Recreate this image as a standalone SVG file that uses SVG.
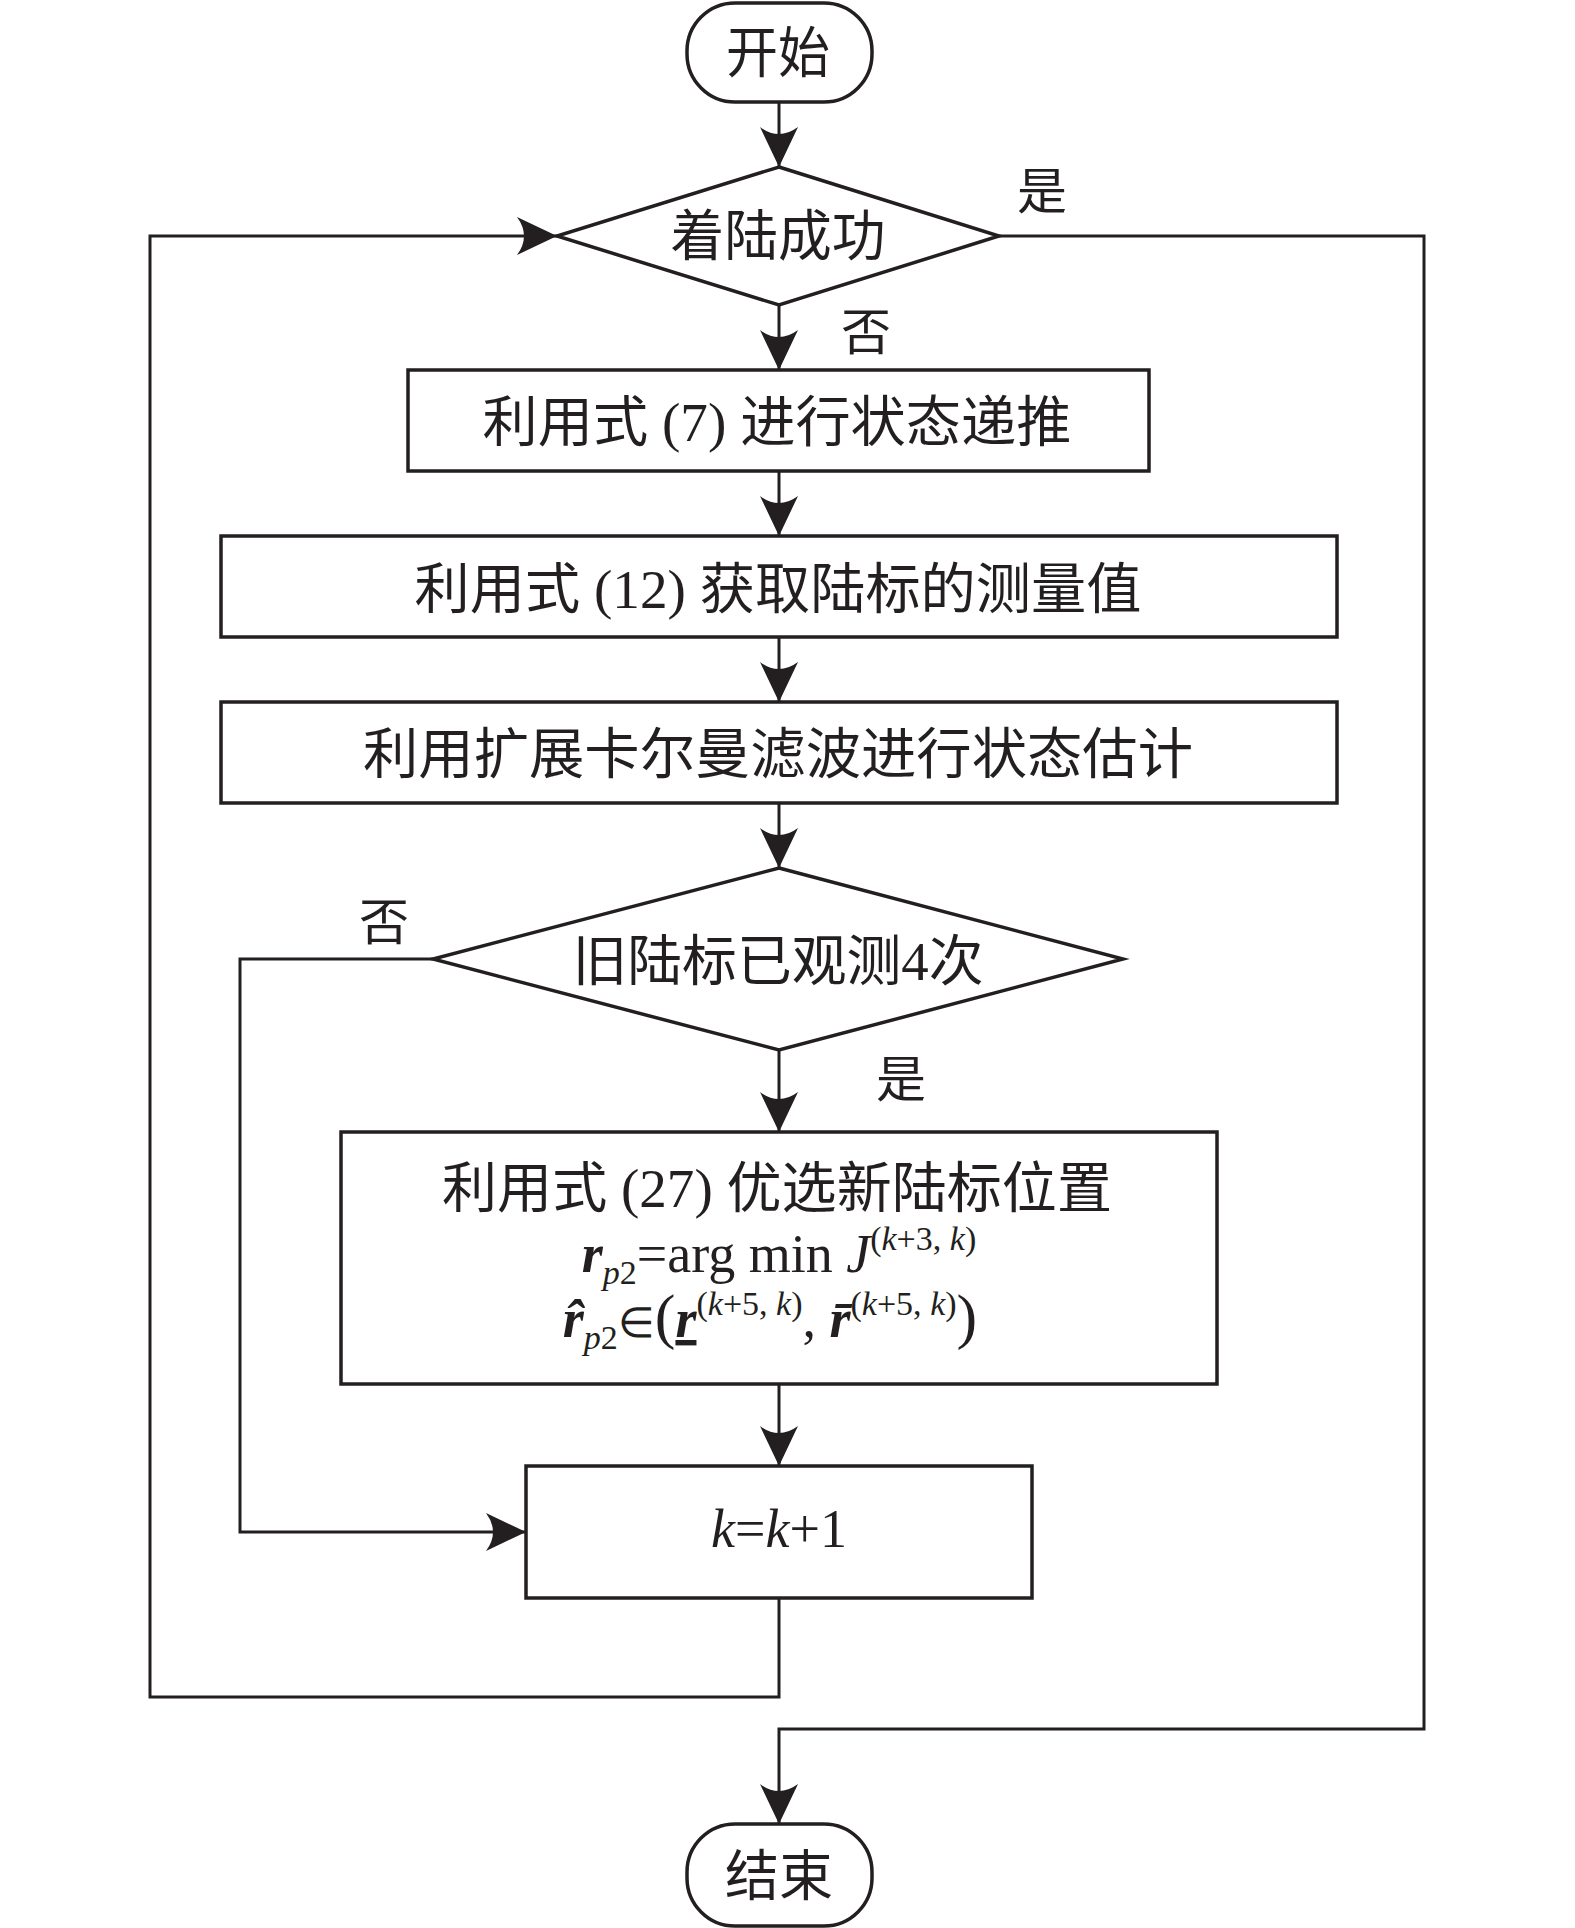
<svg xmlns="http://www.w3.org/2000/svg" width="1575" height="1928" viewBox="0 0 1575 1928">
<style>
.shape{fill:#fff;stroke:#231f20;stroke-width:3.5}
.conn{fill:none;stroke:#231f20;stroke-width:3}
.t{font-family:"Liberation Serif","Noto Sans CJK SC",serif;font-size:55px;fill:#231f20;text-anchor:middle}
.lbl{font-family:"Liberation Serif","Noto Sans CJK SC",serif;font-size:50px;fill:#231f20;text-anchor:middle}
.m{font-family:"Liberation Serif",serif;font-size:54px;fill:#231f20;text-anchor:middle}
.bi{font-weight:bold;font-style:italic}
.i{font-style:italic}
.s{font-size:34px}
</style>
<defs>
<marker id="ah" viewBox="0 0 40 40" refX="40" refY="20" markerWidth="40" markerHeight="40" markerUnits="userSpaceOnUse" orient="auto">
<path d="M40,20 L0,1 Q14,20 0,39 Z" fill="#231f20"/>
</marker>
</defs>
<rect width="1575" height="1928" fill="#fff"/>
<g id="connectors">
<path class="conn" d="M779,102 V167" marker-end="url(#ah)"/>
<path class="conn" d="M779,305 V370" marker-end="url(#ah)"/>
<path class="conn" d="M779,471 V536" marker-end="url(#ah)"/>
<path class="conn" d="M779,637 V702" marker-end="url(#ah)"/>
<path class="conn" d="M779,803 V868" marker-end="url(#ah)"/>
<path class="conn" d="M779,1050 V1132" marker-end="url(#ah)"/>
<path class="conn" d="M779,1384 V1466" marker-end="url(#ah)"/>
<path class="conn" d="M433,959 H240 V1532 H526" marker-end="url(#ah)"/>
<path class="conn" d="M779,1598 V1697 H150 V236 H557" marker-end="url(#ah)"/>
<path class="conn" d="M999,236 H1424 V1729 H779 V1824" marker-end="url(#ah)"/>
<text class="lbl" x="1042" y="209">是</text>
<text class="lbl" x="866" y="350">否</text>
<text class="lbl" x="384" y="940">否</text>
<text class="lbl" x="901" y="1097">是</text>
</g>
<g id="start">
<rect class="shape" x="687" y="3" width="185" height="99" rx="48" ry="48"/>
<text class="t" x="778" y="72" textLength="104" lengthAdjust="spacingAndGlyphs">开始</text>
</g>
<g id="decision1">
<polygon class="shape" points="779,167 999,236 779,305 557,236"/>
<text class="t" x="778" y="255" textLength="215" lengthAdjust="spacingAndGlyphs">着陆成功</text>
</g>
<g id="step1">
<rect class="shape" x="408" y="370" width="741" height="101"/>
<text class="t" x="777" y="441" textLength="589" lengthAdjust="spacingAndGlyphs">利用式 (7) 进行状态递推</text>
</g>
<g id="step2">
<rect class="shape" x="221" y="536" width="1116" height="101"/>
<text class="t" x="778" y="608" textLength="727" lengthAdjust="spacingAndGlyphs">利用式 (12) 获取陆标的测量值</text>
</g>
<g id="step3">
<rect class="shape" x="221" y="702" width="1116" height="101"/>
<text class="t" x="778" y="773" textLength="830" lengthAdjust="spacingAndGlyphs">利用扩展卡尔曼滤波进行状态估计</text>
</g>
<g id="decision2">
<polygon class="shape" points="779,868 1123,959 779,1050 433,959"/>
<text class="t" x="778" y="980" textLength="411" lengthAdjust="spacingAndGlyphs">旧陆标已观测4次</text>
</g>
<g id="step4">
<rect class="shape" x="341" y="1132" width="876" height="252"/>
<text class="t" x="777" y="1207" textLength="670" lengthAdjust="spacingAndGlyphs">利用式 (27) 优选新陆标位置</text>
<text class="m" x="779" y="1272"><tspan class="bi">r</tspan><tspan class="s i" dy="12">p</tspan><tspan class="s">2</tspan><tspan dy="-12">=arg min </tspan><tspan class="i">J</tspan><tspan class="s" dy="-22">(<tspan class="i">k</tspan>+3, <tspan class="i">k</tspan>)</tspan></text>
<text class="m" x="770" y="1337"><tspan class="bi">r&#x302;</tspan><tspan class="s i" dy="12">p</tspan><tspan class="s">2</tspan><tspan dy="-12" font-size="42">∈</tspan><tspan font-size="62">(</tspan><tspan class="bi" text-decoration="underline">r</tspan><tspan class="s" dy="-22">(<tspan class="i">k</tspan>+5, <tspan class="i">k</tspan>)</tspan><tspan dy="22">, </tspan><tspan class="bi">r&#x304;</tspan><tspan class="s" dy="-22">(<tspan class="i">k</tspan>+5, <tspan class="i">k</tspan>)</tspan><tspan dy="22" font-size="62">)</tspan></text>
</g>
<g id="step5">
<rect class="shape" x="526" y="1466" width="506" height="132"/>
<text class="m" x="779" y="1547"><tspan class="i">k</tspan>=<tspan class="i">k</tspan>+1</text>
</g>
<g id="end">
<rect class="shape" x="687" y="1824" width="185" height="102" rx="48" ry="48"/>
<text class="t" x="779" y="1895" textLength="108" lengthAdjust="spacingAndGlyphs">结束</text>
</g>
</svg>
